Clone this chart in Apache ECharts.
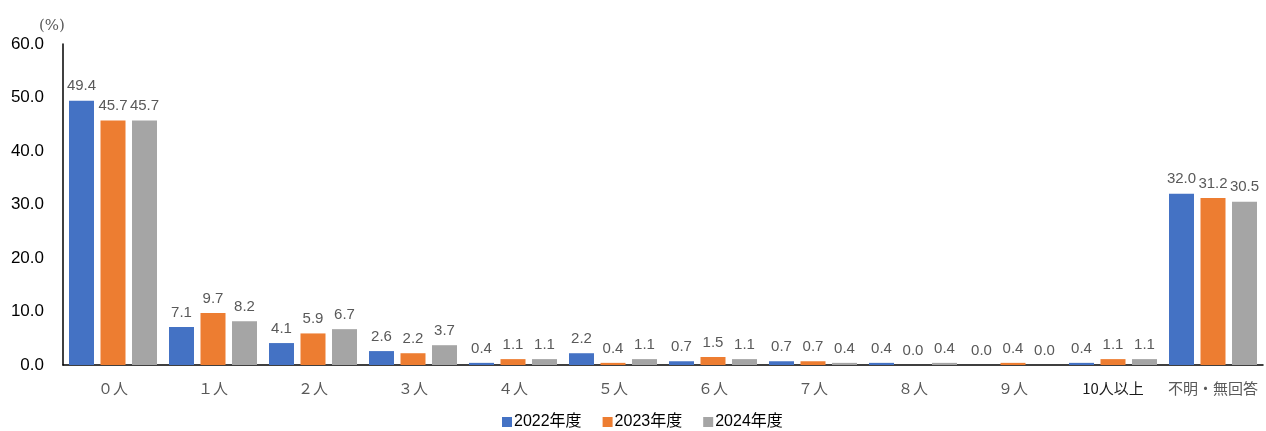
<!DOCTYPE html>
<html>
<head>
<meta charset="utf-8">
<script src="https://cdn.jsdelivr.net/npm/echarts@6/dist/echarts.min.js"></script>
<style>
  html, body { margin: 0; padding: 0; background: #fff; }
  #main { width: 1266px; height: 431px; }
</style>
</head>
<body>
<div id="main"></div>
<script>
var categories = ['０人', '１人', '２人', '３人', '４人', '５人', '６人', '７人', '８人', '９人', '10人以上', '不明・無回答'];
var seriesNames = ['2022年度', '2023年度', '2024年度'];
var data2022 = [49.4, 7.1, 4.1, 2.6, 0.4, 2.2, 0.7, 0.7, 0.4, 0.0, 0.4, 32.0];
var data2023 = [45.7, 9.7, 5.9, 2.2, 1.1, 0.4, 1.5, 0.7, 0.0, 0.4, 1.1, 31.2];
var data2024 = [45.7, 8.2, 6.7, 3.7, 1.1, 1.1, 1.1, 0.4, 0.4, 0.0, 1.1, 30.5];
var colors = ['#4472C4', '#ED7D31', '#A5A5A5'];

var myChart = echarts.init(document.getElementById('main'));

function makeSeries(name, data, color) {
    return {
        name: name,
        type: 'bar',
        data: data,
        barWidth: 25,
        barGap: '26%',
        itemStyle: { color: color },
        label: {
            show: true,
            position: 'top',
            distance: 7,
            color: '#595959',
            fontSize: 15,
            fontFamily: 'Liberation Sans, Arial, sans-serif',
            formatter: function (p) { return p.value.toFixed(1); }
        }
    };
}

// 10人以上 is drawn darker in the original
var catData = categories.map(function (c) {
    return c === '10人以上' ? { value: c, textStyle: { color: '#1a1a1a' } } : c;
});

var option = {
    animation: false,
    textStyle: { fontFamily: 'Liberation Sans, Arial, "Noto Sans CJK JP", sans-serif' },
    grid: { left: 63, right: 3, top: 44, bottom: 66 },
    title: {
        text: '(%)',
        left: 34,
        top: 14,
        textStyle: { fontSize: 15, fontWeight: 'normal', color: '#595959', fontFamily: 'DejaVu Serif, serif' }
    },
    legend: {
        data: seriesNames,
        top: 414,
        left: 502,
        padding: 0,
        itemWidth: 10,
        itemHeight: 10,
        itemGap: 21,
        icon: 'rect',
        textStyle: { fontSize: 16, color: '#000', padding: [0, 0, 0, -3] }
    },
    xAxis: {
        type: 'category',
        data: catData,
        axisLine: { lineStyle: { color: '#000', width: 1.5 } },
        axisTick: { show: false },
        axisLabel: { color: '#595959', fontSize: 15, margin: 16, interval: 0,
            fontFamily: '"Noto Sans CJK JP", sans-serif' }
    },
    yAxis: {
        type: 'value',
        min: 0,
        max: 60,
        interval: 10,
        axisLine: { show: true, lineStyle: { color: '#000', width: 1.5 } },
        axisTick: { show: false },
        splitLine: { show: false },
        axisLabel: { color: '#000', fontSize: 17, margin: 19,
            formatter: function (v) { return v.toFixed(1); } }
    },
    series: [
        makeSeries(seriesNames[0], data2022, colors[0]),
        makeSeries(seriesNames[1], data2023, colors[1]),
        makeSeries(seriesNames[2], data2024, colors[2])
    ]
};
myChart.setOption(option);
</script>
</body>
</html>
